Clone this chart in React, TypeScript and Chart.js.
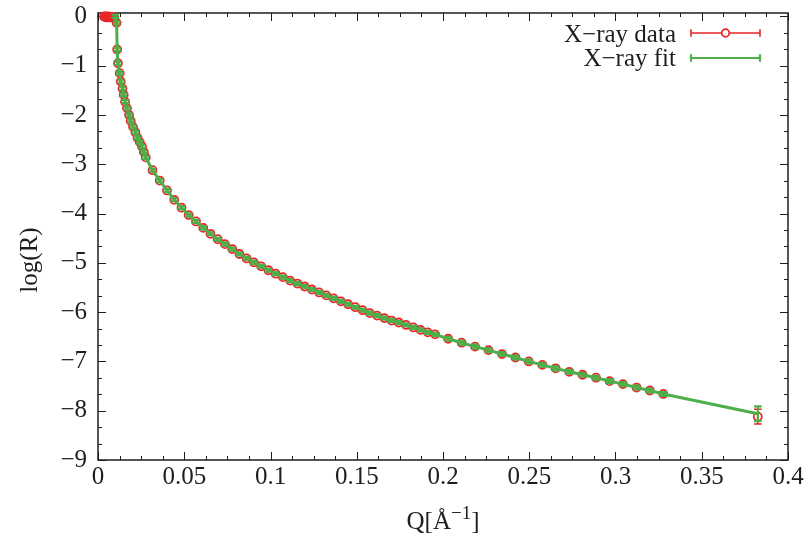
import React, { useEffect, useRef } from "react";
import { Chart, registerables } from "chart.js";

Chart.register(...registerables);

// Specular reflectivity: momentum transfer Q (Å^-1) against log10 of the reflectivity.
const qData = [
  0.0035, 0.004, 0.0045, 0.005, 0.0055, 0.006, 0.0065, 0.007, 0.0075, 0.008,
  0.0085, 0.009, 0.0095,
  0.0108, 0.0111, 0.0116, 0.0126, 0.0132, 0.0142, 0.0149, 0.0157, 0.0168, 0.018,
  0.019, 0.0203, 0.0217, 0.0229, 0.0242, 0.0255, 0.0266, 0.0277,
  0.0316, 0.0358, 0.04, 0.0442, 0.0484, 0.0526, 0.0568, 0.061, 0.0652, 0.0694,
  0.0736, 0.0778, 0.082, 0.0862, 0.0904, 0.0946, 0.0988, 0.103, 0.1072, 0.1114,
  0.1156, 0.1198, 0.124, 0.1282, 0.1324, 0.1366, 0.1408, 0.145, 0.1492, 0.1534,
  0.1576, 0.1618, 0.166, 0.1702, 0.1744, 0.1786, 0.1828, 0.187, 0.1912, 0.1954,
  0.203, 0.2108, 0.2186, 0.2264, 0.2342, 0.242, 0.2497, 0.2576, 0.2653, 0.2732,
  0.2809, 0.2887, 0.2966, 0.3043, 0.3122, 0.3199, 0.3277,
  0.3825,
];
const logRData = [
  0.0, -0.01, 0.0, -0.02, -0.01, 0.0, -0.01, -0.02, -0.01, -0.02,
  -0.01, -0.02, -0.03,
  -0.13, -0.67, -0.95, -1.15, -1.32, -1.46, -1.59, -1.73, -1.86, -2.0,
  -2.12, -2.24, -2.35, -2.46, -2.55, -2.64, -2.75, -2.86,
  -3.12, -3.33, -3.53, -3.72, -3.88, -4.03, -4.16, -4.29, -4.41, -4.52,
  -4.62, -4.72, -4.82, -4.91, -4.99, -5.07, -5.15, -5.22, -5.29, -5.36,
  -5.42, -5.48, -5.54, -5.6, -5.66, -5.72, -5.78, -5.84, -5.9, -5.96,
  -6.02, -6.07, -6.12, -6.17, -6.21, -6.26, -6.31, -6.36, -6.41, -6.45,
  -6.54, -6.62, -6.7, -6.77, -6.85, -6.92, -7.0, -7.07, -7.14, -7.21,
  -7.27, -7.33, -7.4, -7.46, -7.53, -7.59, -7.66,
  -8.12,
];
const logRDataErr = [
  0.02, 0.02, 0.02, 0.02, 0.02, 0.02, 0.02, 0.02, 0.02, 0.02,
  0.02, 0.02, 0.02,
  0.03, 0.03, 0.03, 0.03, 0.03, 0.03, 0.03, 0.03, 0.03, 0.03,
  0.03, 0.03, 0.03, 0.03, 0.03, 0.03, 0.03, 0.03,
  0.03, 0.03, 0.03, 0.03, 0.03, 0.03, 0.03, 0.03, 0.03, 0.03,
  0.03, 0.03, 0.03, 0.03, 0.03, 0.03, 0.03, 0.03, 0.03, 0.03,
  0.03, 0.03, 0.03, 0.03, 0.03, 0.03, 0.03, 0.03, 0.03, 0.03,
  0.03, 0.03, 0.03, 0.03, 0.03, 0.03, 0.03, 0.03, 0.03, 0.03,
  0.04, 0.04, 0.04, 0.04, 0.04, 0.04, 0.04, 0.04, 0.04, 0.04,
  0.04, 0.04, 0.04, 0.04, 0.04, 0.04, 0.04,
  0.15,
];

const qFit = [
  0.01,
  0.0108, 0.0111, 0.0116, 0.0126, 0.0132, 0.0142, 0.0149, 0.0157, 0.0168, 0.018,
  0.019, 0.0203, 0.0217, 0.0229, 0.0242, 0.0255, 0.0266, 0.0277,
  0.0316, 0.0358, 0.04, 0.0442, 0.0484, 0.0526, 0.0568, 0.061, 0.0652, 0.0694,
  0.0736, 0.0778, 0.082, 0.0862, 0.0904, 0.0946, 0.0988, 0.103, 0.1072, 0.1114,
  0.1156, 0.1198, 0.124, 0.1282, 0.1324, 0.1366, 0.1408, 0.145, 0.1492, 0.1534,
  0.1576, 0.1618, 0.166, 0.1702, 0.1744, 0.1786, 0.1828, 0.187, 0.1912, 0.1954,
  0.203, 0.2108, 0.2186, 0.2264, 0.2342, 0.242, 0.2497, 0.2576, 0.2653, 0.2732,
  0.2809, 0.2887, 0.2966, 0.3043, 0.3122, 0.3199, 0.3277,
  0.3825,
];
const logRFit = [
  0.0,
  -0.13, -0.67, -0.95, -1.15, -1.32, -1.46, -1.59, -1.73, -1.86, -2.0,
  -2.12, -2.24, -2.35, -2.46, -2.55, -2.64, -2.75, -2.86,
  -3.12, -3.33, -3.53, -3.72, -3.88, -4.03, -4.16, -4.29, -4.41, -4.52,
  -4.62, -4.72, -4.82, -4.91, -4.99, -5.07, -5.15, -5.22, -5.29, -5.36,
  -5.42, -5.48, -5.54, -5.6, -5.66, -5.72, -5.78, -5.84, -5.9, -5.96,
  -6.02, -6.07, -6.12, -6.17, -6.21, -6.26, -6.31, -6.36, -6.41, -6.45,
  -6.54, -6.62, -6.7, -6.77, -6.85, -6.92, -7.0, -7.07, -7.14, -7.21,
  -7.27, -7.33, -7.4, -7.46, -7.53, -7.59, -7.66,
  -8.06,
];
const logRFitErr = [
  0.03,
  0.03, 0.03, 0.03, 0.03, 0.03, 0.03, 0.03, 0.03, 0.03, 0.03,
  0.03, 0.03, 0.03, 0.03, 0.03, 0.03, 0.03, 0.03,
  0.03, 0.03, 0.03, 0.03, 0.03, 0.03, 0.03, 0.03, 0.03, 0.03,
  0.03, 0.03, 0.03, 0.03, 0.03, 0.03, 0.03, 0.03, 0.03, 0.03,
  0.03, 0.03, 0.03, 0.03, 0.03, 0.03, 0.03, 0.03, 0.03, 0.03,
  0.03, 0.03, 0.03, 0.03, 0.03, 0.03, 0.03, 0.03, 0.03, 0.03,
  0.04, 0.04, 0.04, 0.04, 0.04, 0.04, 0.04, 0.04, 0.04, 0.04,
  0.04, 0.04, 0.04, 0.04, 0.04, 0.04, 0.04,
  0.15,
];

const seriesLabels = ["X\u2212ray data", "X\u2212ray fit"];
const xTickValues = [0, 0.05, 0.1, 0.15, 0.2, 0.25, 0.3, 0.35, 0.4];
const yTickValues = [0, -1, -2, -3, -4, -5, -6, -7, -8, -9];
const X_MIN = 0;
const X_MAX = 0.4;
const Y_MIN = -9;
const Y_MAX = 0.07;
const X_MINOR_DIV = 4;
const Y_MINOR_DIV = 3;

const RED = "#e8262a";
const GREEN = "#4daf4a";
const INK = "#1e1e1e";
const FONT = "'Liberation Serif', 'Times New Roman', serif";
const FONT_SIZE = 25;

const CANVAS_W = 811;
const CANVAS_H = 543;
const PLOT_LEFT = 98;
const PLOT_RIGHT = 788;
const PLOT_TOP = 13;
const PLOT_BOTTOM = 460;

const MAJOR_TICK = 8;
const MINOR_TICK = 4;
const CAP_HALF = 3.8;

const errorSets = [logRDataErr, logRFitErr];
const errorColors = [RED, GREEN];
const errorWidths = [1.6, 2.2];

const fmtTick = (v: number) => (v < 0 ? "\u2212" + String(Math.abs(v)) : String(v));

// Border with inward major/minor ticks mirrored on all four sides.
const framePlugin = {
  id: "frame",
  beforeDatasetsDraw(chart: any) {
    const { ctx, chartArea, scales } = chart;
    const { left, right, top, bottom } = chartArea;
    const xs = scales.x;
    const ys = scales.y;
    ctx.save();
    ctx.strokeStyle = INK;
    ctx.lineWidth = 1;
    ctx.beginPath();
    xTickValues.forEach((v, i) => {
      const px = Math.round(xs.getPixelForValue(v)) + 0.5;
      ctx.moveTo(px, bottom);
      ctx.lineTo(px, bottom - MAJOR_TICK);
      ctx.moveTo(px, top);
      ctx.lineTo(px, top + MAJOR_TICK);
      if (i < xTickValues.length - 1) {
        const next = xTickValues[i + 1];
        for (let k = 1; k < X_MINOR_DIV; k++) {
          const mv = v + ((next - v) * k) / X_MINOR_DIV;
          const mx = Math.round(xs.getPixelForValue(mv)) + 0.5;
          ctx.moveTo(mx, bottom);
          ctx.lineTo(mx, bottom - MINOR_TICK);
          ctx.moveTo(mx, top);
          ctx.lineTo(mx, top + MINOR_TICK);
        }
      }
    });
    yTickValues.forEach((v, i) => {
      const py = Math.round(ys.getPixelForValue(v)) + 0.5;
      ctx.moveTo(left, py);
      ctx.lineTo(left + MAJOR_TICK, py);
      ctx.moveTo(right, py);
      ctx.lineTo(right - MAJOR_TICK, py);
      if (i < yTickValues.length - 1) {
        const next = yTickValues[i + 1];
        for (let k = 1; k < Y_MINOR_DIV; k++) {
          const mv = v + ((next - v) * k) / Y_MINOR_DIV;
          const my = Math.round(ys.getPixelForValue(mv)) + 0.5;
          ctx.moveTo(left, my);
          ctx.lineTo(left + MINOR_TICK, my);
          ctx.moveTo(right, my);
          ctx.lineTo(right - MINOR_TICK, my);
        }
      }
    });
    ctx.stroke();
    ctx.lineWidth = 1.5;
    ctx.strokeRect(left, top, right - left, bottom - top);
    ctx.restore();
  },
};

// Vertical error bars with end caps, drawn right after each series.
const errorBarPlugin = {
  id: "errorBars",
  afterDatasetDraw(chart: any, args: any) {
    const errs = errorSets[args.index];
    if (!errs) return;
    const ds = chart.data.datasets[args.index];
    const ys = chart.scales.y;
    const ctx = chart.ctx;
    ctx.save();
    ctx.strokeStyle = errorColors[args.index];
    ctx.lineWidth = errorWidths[args.index];
    ctx.beginPath();
    args.meta.data.forEach((el: any, i: number) => {
      const raw = ds.data[i];
      const y0 = ys.getPixelForValue(raw.y - errs[i]);
      const y1 = ys.getPixelForValue(raw.y + errs[i]);
      const px = el.x;
      ctx.moveTo(px, y0);
      ctx.lineTo(px, y1);
      ctx.moveTo(px - CAP_HALF, y0);
      ctx.lineTo(px + CAP_HALF, y0);
      ctx.moveTo(px - CAP_HALF, y1);
      ctx.lineTo(px + CAP_HALF, y1);
    });
    ctx.stroke();
    ctx.restore();
  },
};

// Axis titles and the key in the upper right.
const annotationPlugin = {
  id: "annotations",
  afterDraw(chart: any) {
    const { ctx, chartArea } = chart;
    ctx.save();
    ctx.fillStyle = INK;
    ctx.textBaseline = "alphabetic";

    // x title with superscript exponent
    const main = `${FONT_SIZE}px ${FONT}`;
    const small = `${Math.round(FONT_SIZE * 0.75)}px ${FONT}`;
    const partA = "Q[\u00C5";
    const partSup = "\u22121";
    const partB = "]";
    ctx.font = main;
    const wA = ctx.measureText(partA).width;
    const wB = ctx.measureText(partB).width;
    ctx.font = small;
    const wS = ctx.measureText(partSup).width;
    const total = wA + wS + wB;
    const cx = (chartArea.left + chartArea.right) / 2;
    let tx = cx - total / 2;
    const base = 529;
    ctx.textAlign = "left";
    ctx.font = main;
    ctx.fillText(partA, tx, base);
    tx += wA;
    ctx.font = small;
    ctx.fillText(partSup, tx, base - 10);
    tx += wS;
    ctx.font = main;
    ctx.fillText(partB, tx, base);

    // y title
    ctx.save();
    ctx.translate(37, 260);
    ctx.rotate(-Math.PI / 2);
    ctx.textAlign = "center";
    ctx.font = main;
    ctx.fillText("log(R)", 0, 0);
    ctx.restore();

    // key
    const keyRight = 676;
    const sx0 = 691;
    const sx1 = 760;
    const rows = [
      { base: 42, mid: 33, color: RED, width: 1.6, marker: true },
      { base: 66, mid: 58, color: GREEN, width: 2.2, marker: false },
    ];
    rows.forEach((r, i) => {
      ctx.fillStyle = INK;
      ctx.font = main;
      ctx.textAlign = "right";
      ctx.fillText(seriesLabels[i], keyRight, r.base);
      ctx.strokeStyle = r.color;
      ctx.lineWidth = r.width;
      ctx.beginPath();
      ctx.moveTo(sx0, r.mid);
      ctx.lineTo(sx1, r.mid);
      ctx.moveTo(sx0, r.mid - CAP_HALF);
      ctx.lineTo(sx0, r.mid + CAP_HALF);
      ctx.moveTo(sx1, r.mid - CAP_HALF);
      ctx.lineTo(sx1, r.mid + CAP_HALF);
      ctx.stroke();
      if (r.marker) {
        ctx.fillStyle = "#ffffff";
        ctx.beginPath();
        ctx.arc((sx0 + sx1) / 2, r.mid, 3.8, 0, Math.PI * 2);
        ctx.fill();
        ctx.lineWidth = 1.8;
        ctx.stroke();
      }
    });
    ctx.restore();
  },
};

export default function App() {
  const canvasRef = useRef<HTMLCanvasElement | null>(null);

  useEffect(() => {
    const canvas = canvasRef.current;
    if (!canvas) return;
    const dataPoints = qData.map((q, i) => ({ x: q, y: logRData[i] }));
    const fitPoints = qFit.map((q, i) => ({ x: q, y: logRFit[i] }));

    const chart = new Chart(canvas, {
      type: "scatter",
      data: {
        datasets: [
          {
            label: seriesLabels[0],
            data: dataPoints,
            showLine: false,
            pointRadius: 4,
            pointBorderWidth: 1.8,
            pointBorderColor: RED,
            pointBackgroundColor: "rgba(0,0,0,0)",
            order: 2,
            clip: false,
          },
          {
            label: seriesLabels[1],
            data: fitPoints,
            showLine: true,
            borderColor: GREEN,
            borderWidth: 3,
            pointRadius: 0,
            order: 1,
            clip: false,
          },
        ],
      } as any,
      options: {
        animation: false,
        responsive: false,
        devicePixelRatio: 1,
        layout: {
          padding: {
            left: 0,
            top: PLOT_TOP,
            right: CANVAS_W - PLOT_RIGHT,
            bottom: 0,
          },
        },
        plugins: {
          legend: { display: false },
          tooltip: { enabled: false },
        },
        scales: {
          x: {
            type: "linear",
            min: X_MIN,
            max: X_MAX,
            grid: { display: false, drawTicks: false },
            border: { display: false },
            ticks: {
              color: INK,
              font: { family: FONT, size: FONT_SIZE },
              padding: 2,
              maxRotation: 0,
              autoSkip: false,
              callback: (v: any) => fmtTick(Number(v)),
            },
            afterBuildTicks: (s: any) => {
              s.ticks = xTickValues.map((v) => ({ value: v }));
            },
            afterFit: (s: any) => {
              s.height = CANVAS_H - PLOT_BOTTOM;
              s.paddingLeft = 0;
              s.paddingRight = 0;
            },
          },
          y: {
            type: "linear",
            min: Y_MIN,
            max: Y_MAX,
            grid: { display: false, drawTicks: false },
            border: { display: false },
            ticks: {
              color: INK,
              font: { family: FONT, size: FONT_SIZE },
              padding: 11,
              autoSkip: false,
              callback: (v: any) => fmtTick(Number(v)),
            },
            afterBuildTicks: (s: any) => {
              s.ticks = yTickValues.map((v) => ({ value: v }));
            },
            afterFit: (s: any) => {
              s.width = PLOT_LEFT;
              s.paddingTop = 0;
              s.paddingBottom = 0;
            },
          },
        },
      } as any,
      plugins: [framePlugin, errorBarPlugin, annotationPlugin],
    });
    return () => chart.destroy();
  }, []);

  return (
    <div
      style={{
        position: "absolute",
        left: 0,
        top: 0,
        width: CANVAS_W,
        height: CANVAS_H,
        background: "#ffffff",
      }}
    >
      <canvas
        ref={canvasRef}
        width={CANVAS_W}
        height={CANVAS_H}
        style={{ display: "block", width: CANVAS_W, height: CANVAS_H }}
      />
    </div>
  );
}
